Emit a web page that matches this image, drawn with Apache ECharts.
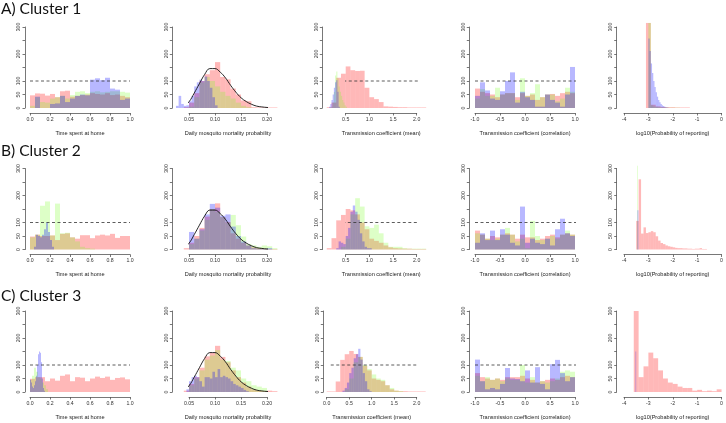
<!DOCTYPE html>
<html><head><meta charset="utf-8">
<script src="https://cdn.jsdelivr.net/npm/echarts@6/dist/echarts.min.js"></script>
<style>html,body{margin:0;padding:0;background:#fff}#c{width:726px;height:423px}</style>
</head><body><div id="c"></div>
<script>
// ---------- DATA ----------
const clusterTitles = ['A) Cluster 1', 'B) Cluster 2', 'C) Cluster 3'];
const xNames = ['Time spent at home', 'Daily mosquito mortality probability', 'Transmission coefficient (mean)', 'Transmission coefficient (correlation)', 'log10(Probability of reporting)'];
const yTicks = [0, 50, 100, 150, 200, 250, 300];
const yLabelsShown = [0, 50, 100, 200, 300];
const refLevel = 100;

// x tick ranges [min, max, step] per column; row C column 3 starts at 0
const xTicksCol = [[0, 1, 0.2], [0.05, 0.20, 0.05], [0.5, 2.0, 0.5], [-1, 1, 0.5], [-4, 0, 1]];
const xTicksC3 = [0, 2.0, 0.5];
const xDecimals = [1, 2, 1, 1, 0];

// prior density curve (mortality)
const priorX = [0.02,0.03,0.04,0.05,0.06,0.07,0.08,0.09,0.10,0.11,0.12,0.13,0.14,0.15,0.16,0.17,0.18,0.19,0.20,0.21];
const priorY = [0,2,8,23,55,90,124,146,146,133,112,84,59,38,24,14,7,4,2,1];

// histograms: bins = [start, width] for red, green, blue
// Cluster 1
const A1_bins = [[0,0.05],[0,0.05],[0,0.05]];
const A1_red   = [47,54,53,46,52,40,62,64,42,45,48,50,55,52,50,55,48,50,45,40];
const A1_green = [8,40,22,20,35,40,45,35,48,60,62,55,60,62,58,60,62,62,60,57];
const A1_blue  = [0,42,0,0,15,17,45,22,35,45,50,47,105,110,103,112,72,68,30,35];

const A2_bins = [[0.04,0.01],[0.05,0.01],[0.025,0.005]];
const A2_red   = [3,20,55,100,125,140,170,115,106,72,50,28,25,3,2,2,2,2];
const A2_green = [5,40,95,115,100,80,60,45,35,20,8,3];
const A2_blue  = [8,45,15,8,10,25,45,80,95,105,100,117,100,75,40,10];

const A3_bins = [[0.1,0.1],[0.2,0.025],[0.15,0.025]];
const A3_red   = [3,20,112,127,154,140,137,138,75,40,33,22,6,5,4,3,3,2,2,2,2];
const A3_green = [5,20,60,120,135,110,80,60,45,30,20,10,5];
const A3_blue  = [5,15,30,50,75,95,103,60,5];

const A4_bins = [[-1,0.1],[-1,0.1],[-1,0.1]];
const A4_red   = [72,60,55,50,40,50,55,55,40,55,45,50,30,40,50,52,45,55,60,55];
const A4_green = [35,70,45,45,75,50,55,55,30,110,45,55,88,40,50,50,25,35,75,60];
const A4_blue  = [45,95,65,35,30,62,100,132,20,60,40,30,5,5,50,30,20,5,50,152];

const A5_bins = [[-3.1,0.2],[-3.0,0.1],[-3.0,0.05]];
const A5_red   = [315,12,6,4,3,3,2,2,2];
const A5_green = [315,10,6,4,3,2,2,2,1,1,1,1,1];
const A5_blue  = [257,211,165,130,100,78,58,42,30,21,15,10,7,5,3,2,1];

// Cluster 2
const B1_bins = [[0,0.05],[0,0.05],[0.04,0.02]];
const B1_red   = [48,55,50,50,52,35,58,60,45,40,53,53,42,52,55,52,58,43,50,50];
const B1_green = [45,55,162,178,52,170,60,62,45,30,10,5,3];
const B1_blue  = [10,55,50,45,55,75,100,65,35,10];

const B2_bins = [[0.04,0.01],[0.05,0.01],[0.05,0.01]];
const B2_red   = [5,25,50,80,122,150,171,120,102,60,40,25,15,8,5,3,2,2];
const B2_green = [20,40,70,110,150,140,120,100,128,90,48,20,15,10,15,12,5];
const B2_blue  = [65,40,75,130,169,155,125,130,85,50,30,15,5,3,2,5];

const B3_bins = [[0.1,0.1],[0.4,0.1],[0.3,0.05]];
const B3_red   = [5,42,108,128,150,145,130,100,75,40,32,25,15,8,5,4,3,3,2,2,2];
const B3_green = [10,40,130,190,159,86,80,92,60,25,10,10,10,5,3,3,3,3];
const B3_blue  = [5,30,25,20,50,80,140,163,140,110,60,30,10,5,5];

const B4_bins = [[-1,0.1],[-1,0.1],[-1,0.1]];
const B4_red   = [70,55,40,50,45,55,60,55,40,55,45,45,35,40,50,55,45,55,60,55];
const B4_green = [60,55,40,35,40,55,80,55,30,40,5,106,50,35,40,50,40,55,70,55];
const B4_blue  = [25,60,35,70,35,75,55,25,15,159,25,40,25,20,40,15,75,114,60,50];

const B5_bins = [[-3.5,0.1],[-3.46,0.03],[-3.45,0.04]];
const B5_red   = [106,260,59,82,61,64,68,64,49,33,24,20,15,12,10,8,6,5,5,4,4,3,3,2,3,3,5,2,2];
const B5_green = [310];
const B5_blue  = [145];

// Cluster 3
const C1_bins = [[0,0.05],[0,0.02],[0,0.01]];
const C1_red   = [49,55,55,40,50,42,60,65,40,55,53,40,50,57,52,57,45,52,54,47];
const C1_green = [45,60,90,75,55,50,35,25,10];
const C1_blue  = [45,35,20,15,25,40,60,100,140,150,145,110,50,15,5];

const C2_bins = [[0.04,0.01],[0.05,0.01],[0.045,0.005]];
const C2_red   = [5,30,55,90,132,145,171,130,110,80,55,35,20,10,5,3,5,3];
const C2_green = [25,50,80,120,135,155,120,115,90,80,50,40,25,20,15];
const C2_blue  = [10,40,55,60,55,40,20,55,55,50,75,55,85,55,60,55,50,40,30,25,20,15,8,3];

const C3_bins = [[0,0.1],[0.4,0.1],[0.35,0.05]];
const C3_red   = [2,2,39,119,140,152,141,130,97,80,50,45,40,25,10,5,3,3,2,2,2,2];
const C3_green = [10,50,110,130,100,85,65,50,45,25,15,5,3];
const C3_blue  = [5,15,35,70,90,125,140,160,120,70,40,10,3];

const C4_bins = [[-1,0.1],[-1,0.1],[-1,0.1]];
const C4_red   = [70,55,50,45,50,45,55,55,55,60,50,45,35,40,45,50,45,55,60,55];
const C4_green = [60,40,55,45,50,40,50,45,45,100,35,55,35,40,35,40,50,75,80,75];
const C4_blue  = [120,40,10,15,10,30,89,50,48,40,80,35,92,30,10,103,119,70,40,55];

const C5_bins = [[-3.6,0.2],[-3.53,0.03],[-3.53,0.03]];
const C5_red   = [300,55,95,146,125,80,50,35,30,20,15,15,5,8,3,5,3,10];
const C5_green = [];
const C5_blue  = [150];

// dashed reference line extents [x0, x1] (null = none)
const refA = [[0,1], null, [0.1,2.25], [-1,1.02], null];
const refB = [[0,1], null, [0.08,2.3], [-1,1.02], null];
const refC = [[0,1], null, [0.09,2.3], [-1,1.02], null];

// ---------- LAYOUT ----------
const panels = [
  [[A1_bins,A1_red,A1_green,A1_blue],[A2_bins,A2_red,A2_green,A2_blue],[A3_bins,A3_red,A3_green,A3_blue],[A4_bins,A4_red,A4_green,A4_blue],[A5_bins,A5_red,A5_green,A5_blue]],
  [[B1_bins,B1_red,B1_green,B1_blue],[B2_bins,B2_red,B2_green,B2_blue],[B3_bins,B3_red,B3_green,B3_blue],[B4_bins,B4_red,B4_green,B4_blue],[B5_bins,B5_red,B5_green,B5_blue]],
  [[C1_bins,C1_red,C1_green,C1_blue],[C2_bins,C2_red,C2_green,C2_blue],[C3_bins,C3_red,C3_green,C3_blue],[C4_bins,C4_red,C4_green,C4_blue],[C5_bins,C5_red,C5_green,C5_blue]]
];
const refs = [refA, refB, refC];
const rowTop = [27, 168.5, 311];
const rowTitleTop = [1, 143, 288];
const plotH = 81;
// [left px of first tick, width px, y-axis offset]
const colGeom = [[30,100,5],[189,78,16.7],[345.7,71,23.4],[475,100,5.7],[624,99.3,7.3]];
const colGeomC3 = [326.7,90,3.4];
const colors = ['rgba(255,0,0,0.28)','rgba(120,255,30,0.25)','rgba(0,0,255,0.28)'];
const FONT = 'Liberation Sans';

const grids = [], xAxes = [], yAxes = [], series = [], titles = [];
function makeRender(color){
  return function(params, api){
    const p0 = api.coord([api.value(0), 0]);
    const p1 = api.coord([api.value(1), api.value(2)]);
    return {type:'rect', shape:{x:p0[0], y:p1[1], width:p1[0]-p0[0], height:p0[1]-p1[1]}, style:{fill:color}};
  };
}
for (let r = 0; r < 3; r++) {
  titles.push({text: clusterTitles[r], left: 1, top: rowTitleTop[r], padding: 0,
    textStyle:{fontFamily:'Lato', fontSize:15.5, fontWeight:'normal', color:'#111'}});
  for (let c = 0; c < 5; c++) {
    const idx = r*5 + c;
    const g = (r === 2 && c === 2) ? colGeomC3 : colGeom[c];
    const t = (r === 2 && c === 2) ? xTicksC3 : xTicksCol[c];
    grids.push({left: g[0], top: rowTop[r], width: g[1], height: plotH});
    const dec = xDecimals[c];
    xAxes.push({type:'value', gridIndex: idx, min: t[0], max: t[1], interval: t[2], offset: 5,
      name: xNames[c], nameLocation:'middle', nameGap: 17,
      nameTextStyle:{fontFamily:FONT, fontSize:5.6, color:'#222'},
      axisLine:{show:true, onZero:false, lineStyle:{color:'#555', width:0.8}},
      axisTick:{show:true, length:2.5, lineStyle:{color:'#555', width:0.8}},
      axisLabel:{show:true, margin:4, fontFamily:FONT, fontSize:5.2, color:'#333', hideOverlap:false,
        showMinLabel:true, showMaxLabel:true, formatter: v => v.toFixed(dec)},
      splitLine:{show:false}});
    yAxes.push({type:'value', gridIndex: idx, min: 0, max: 300, interval: 50, offset: g[2],
      axisLine:{show:true, onZero:false, lineStyle:{color:'#555', width:0.8}},
      axisTick:{show:true, length:2.5, lineStyle:{color:'#555', width:0.8}},
      axisLabel:{show:true, rotate:90, margin:3.5, fontFamily:FONT, fontSize:5.2, color:'#333',
        formatter: v => yLabelsShown.indexOf(Math.round(v)) >= 0 ? String(Math.round(v)) : ''},
      splitLine:{show:false}});
    const p = panels[r][c];
    for (let s = 0; s < 3; s++) {
      const start = p[0][s][0], w = p[0][s][1];
      const counts = p[s+1];
      const data = counts.map((v, i) => [start + i*w, start + (i+1)*w, v]);
      series.push({type:'custom', xAxisIndex: idx, yAxisIndex: idx, clip:false, silent:true,
        renderItem: makeRender(colors[s]), encode:{x:[0,1], y:2}, data: data, animation:false});
    }
    const ref = refs[r][c];
    if (ref) {
      series.push({type:'line', xAxisIndex: idx, yAxisIndex: idx, clip:false, silent:true, symbol:'none',
        data: [[ref[0], refLevel],[ref[1], refLevel]],
        lineStyle:{color:'#333', width:0.8, type:[3,2.5]}, animation:false});
    }
    if (c === 1) {
      series.push({type:'line', xAxisIndex: idx, yAxisIndex: idx, clip:false, silent:true, symbol:'none', smooth:0.4,
        data: priorX.map((x, i) => [x, priorY[i]]),
        lineStyle:{color:'#111', width:0.9}, animation:false});
    }
  }
}
const chart = echarts.init(document.getElementById('c'), null, {renderer:'canvas'});
chart.setOption({animation:false, backgroundColor:'#fff', title: titles, grid: grids, xAxis: xAxes, yAxis: yAxes, series: series});
</script></body></html>
